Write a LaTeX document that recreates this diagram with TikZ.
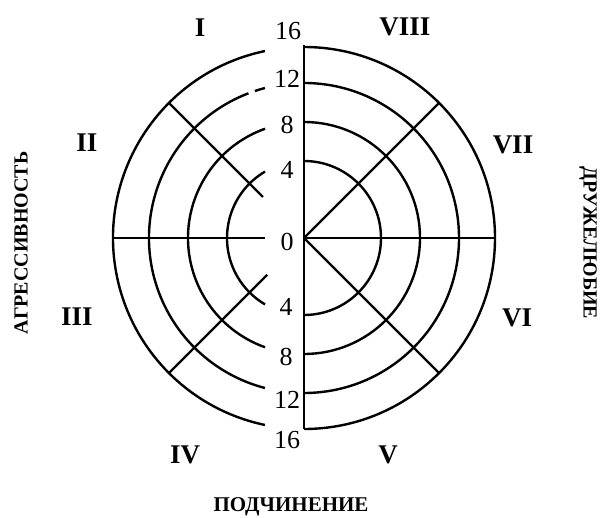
\documentclass[tikz,border=0pt]{standalone}
\usepackage{fontspec}
\setmainfont{Liberation Serif}
\begin{document}
\begin{tikzpicture}[x=1pt,y=1pt,
  ring/.style={line width=2.4pt},
  num/.style={font=\fontsize{26}{26}\selectfont, inner sep=0pt},
  oct/.style={font=\fontsize{27}{27}\selectfont\bfseries, inner sep=0pt},
  axislabel/.style={font=\fontsize{20}{20}\selectfont\bfseries, inner sep=0pt}]
\useasboundingbox (0,0) rectangle (601,517);
\coordinate (O) at (304,279);
\coordinate (vtop) at (304,472);
\coordinate (vbot) at (304,88);
\coordinate (hr) at (495,279);
\coordinate (hl1) at (113,279);
\coordinate (hl2) at (265,279);
% right half rings
\foreach \r in {77,116,155,191}
  \draw[ring] ([shift={(90:\r pt)}]O) arc[start angle=90,end angle=-90,radius=\r pt];
% left half rings
\draw[ring] ([shift={(120.4:77pt)}]O) arc[start angle=120.4,end angle=239.6,radius=77pt];
\draw[ring] ([shift={(109.6:116pt)}]O) arc[start angle=109.6,end angle=250.4,radius=116pt];
\draw[ring] ([shift={(111:155pt)}]O) arc[start angle=111,end angle=255.4,radius=155pt];
\draw[ring] ([shift={(104.6:155pt)}]O) arc[start angle=104.6,end angle=108.5,radius=155pt];
\draw[ring] ([shift={(101.8:191pt)}]O) arc[start angle=101.8,end angle=258.2,radius=191pt];
% axes
\draw[ring] (vtop) -- (vbot);
\draw[ring] (O) -- (hr);
\draw[ring] (hl1) -- (hl2);
% diagonals
\draw[ring] (O) -- ([shift={(45:191pt)}]O);
\draw[ring] (O) -- ([shift={(-45:191pt)}]O);
\draw[ring] ([shift={(135:191pt)}]O) -- ([shift={(135:58pt)}]O);
\draw[ring] ([shift={(225:191pt)}]O) -- ([shift={(225:52pt)}]O);
% scale numbers
\node[num] (n16t) at (288,486) {16};
\node[num] (n12t) at (287,438) {12};
\node[num] (n8t) at (287,392) {8};
\node[num] (n4t) at (287,347) {4};
\node[num] (n0) at (287,275) {0};
\node[num] (n4b) at (286,210) {4};
\node[num] (n8b) at (286,160) {8};
\node[num] (n12b) at (287,117) {12};
\node[num] (n16b) at (287,77) {16};
% octants
\node[oct] (o1) at (200,489) {I};
\node[oct] (o8) at (405,490) {VIII};
\node[oct] (o2) at (87,374) {II};
\node[oct] (o7) at (513,372) {VII};
\node[oct] (o3) at (77,200) {III};
\node[oct] (o6) at (517,199) {VI};
\node[oct] (o4) at (185,62) {IV};
\node[oct] (o5) at (388,62) {V};
% axis labels
\node[axislabel, rotate=90] (agr) at (21,274) {АГРЕССИВНОСТЬ};
\node[axislabel, rotate=-90] (dru) at (588,274) {ДРУЖЕЛЮБИЕ};
\node[axislabel, font=\fontsize{21}{21}\selectfont\bfseries] (pod) at (291,10) {ПОДЧИНЕНИЕ};
\end{tikzpicture}
\end{document}
